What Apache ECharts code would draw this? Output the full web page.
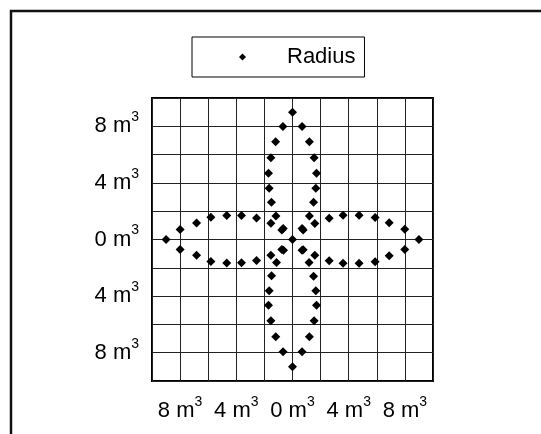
<!DOCTYPE html>
<html>
<head>
<meta charset="utf-8">
<script src="https://cdn.jsdelivr.net/npm/echarts@6/dist/echarts.min.js"></script>
<style>
  html, body { margin: 0; padding: 0; background: #fff; }
  #chart { width: 541px; height: 434px; }
</style>
</head>
<body>
<div id="chart"></div>
<script>
// Radius samples, one array of [x, y] pairs per petal (values in m³)
var upperLobe = [
  [0.68, 0.78], [1.2, 1.66], [1.5, 2.64], [1.66, 3.62], [1.71, 4.68],
  [1.54, 5.78], [1.2, 6.9], [0.68, 7.98], [0, 9.0],
  [-0.68, 7.98], [-1.2, 6.9], [-1.54, 5.78], [-1.71, 4.68], [-1.66, 3.62],
  [-1.5, 2.64], [-1.18, 1.66], [-0.66, 0.78]
];
var lowerLobe = [
  [0.68, -0.76], [1.18, -1.63], [1.5, -2.6], [1.66, -3.63], [1.71, -4.64],
  [1.54, -5.75], [1.2, -6.88], [0.68, -7.94], [0, -9.0],
  [-0.67, -7.94], [-1.19, -6.88], [-1.54, -5.75], [-1.71, -4.64], [-1.66, -3.63],
  [-1.49, -2.57], [-1.14, -1.63], [-0.64, -0.76]
];
var leftLobe = [
  [-0.76, 0.68], [-1.54, 1.15], [-2.56, 1.52], [-3.63, 1.7], [-4.68, 1.7],
  [-5.81, 1.57], [-6.83, 1.16], [-8.0, 0.71], [-9.0, 0],
  [-8.0, -0.71], [-6.83, -1.12], [-5.81, -1.55], [-4.68, -1.66], [-3.63, -1.64],
  [-2.56, -1.48], [-1.54, -1.12], [-0.76, -0.7]
];
var rightLobe = [
  [0.76, 0.68], [1.59, 1.13], [2.61, 1.5], [3.6, 1.72], [4.74, 1.72],
  [5.88, 1.55], [6.88, 1.18], [7.99, 0.72], [9.0, 0],
  [7.99, -0.71], [6.88, -1.15], [5.88, -1.57], [4.74, -1.68], [3.6, -1.68],
  [2.61, -1.5], [1.59, -1.11], [0.76, -0.72]
];
var centerPoint = [[0, 0]];

// Axis settings: grid every 2 m³, labels every 4 m³ (shown as magnitudes)
var axisMin = -10;
var axisMax = 10;
var gridStep = 2;
var labelValues = [-8, -4, 0, 4, 8];
var unitText = 'm';
var unitPower = '3';
var seriesName = 'Radius';

var radiusData = [].concat(upperLobe, lowerLobe, leftLobe, rightLobe, centerPoint);

function tickLabel(v) {
  var r = Math.round(v);
  if (labelValues.indexOf(r) < 0) return '';
  return '{b|' + Math.abs(r) + ' ' + unitText + '}{s|' + unitPower + '}';
}

var fontFamily = '"Liberation Sans", Arial, Helvetica, sans-serif';
var richLabel = {
  b: { fontSize: 22, lineHeight: 24, color: '#000', fontFamily: fontFamily },
  // exponent: bottom padding lifts it above the main text's middle
  s: { fontSize: 14, padding: [0, 0, 18, 0], color: '#000', fontFamily: fontFamily }
};

function makeAxis(isX) {
  return {
    type: 'value',
    min: axisMin,
    max: axisMax,
    interval: gridStep,
    axisLine: { show: false },
    axisTick: { show: false },
    splitLine: { show: true, lineStyle: { color: '#222', width: 1 } },
    axisLabel: {
      show: true,
      margin: isX ? 14 : 13,
      formatter: tickLabel,
      rich: richLabel,
      showMinLabel: true,
      showMaxLabel: true,
      hideOverlap: false
    }
  };
}

var chart = echarts.init(document.getElementById('chart'), null, { renderer: 'canvas' });
chart.setOption({
  backgroundColor: '#fff',
  animation: false,
  graphic: [{
    type: 'rect',
    shape: { x: 11, y: 11, width: 700, height: 600 },
    style: { fill: 'none', stroke: '#111', lineWidth: 2.5 },
    silent: true
  }],
  legend: {
    data: [{ name: seriesName, icon: 'diamond' }],
    left: 192,
    top: 37,
    padding: [9, 9, 9, 47],
    borderColor: '#000',
    borderWidth: 1,
    itemWidth: 7,
    itemHeight: 7,
    itemStyle: { color: '#000', opacity: 1 },
    textStyle: {
      fontSize: 22, lineHeight: 22, color: '#000', fontFamily: fontFamily,
      padding: [0, 0, 0, 36]
    }
  },
  grid: {
    left: 152,
    top: 98,
    width: 281,
    height: 283,
    show: true,
    borderColor: '#000',
    borderWidth: 2,
    backgroundColor: 'transparent',
    containLabel: false
  },
  xAxis: makeAxis(true),
  yAxis: makeAxis(false),
  series: [{
    name: seriesName,
    type: 'scatter',
    symbol: 'diamond',
    symbolSize: 9,
    itemStyle: { color: '#000', opacity: 1 },
    data: radiusData
  }]
});
</script>
</body>
</html>
